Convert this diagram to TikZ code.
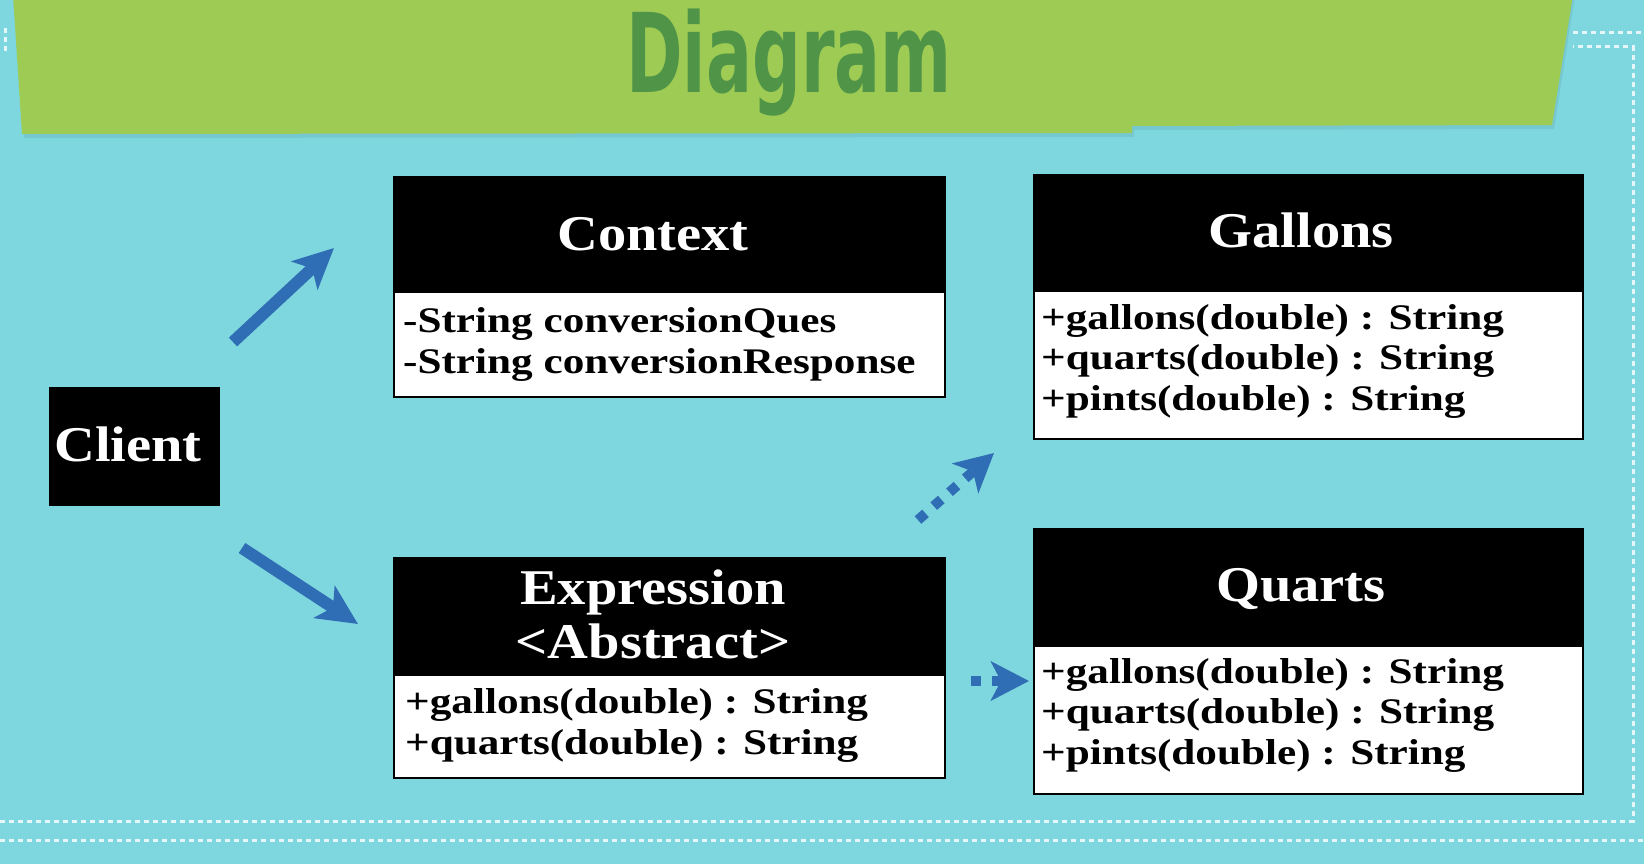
\documentclass[tikz,border=0pt]{standalone}
\usepackage{fontspec}
\newfontfamily\umlbody[FakeStretch=1.2]{Liberation Serif Bold}
\newfontfamily\umlhead[FakeStretch=1.13]{Liberation Serif Bold}
\newfontfamily\titlefont[FakeStretch=0.62]{DejaVu Sans Bold}
\usetikzlibrary{arrows.meta}
\definecolor{bg}{RGB}{126,214,222}
\definecolor{banner}{RGB}{158,203,84}
\definecolor{ttl}{RGB}{80,148,72}
\definecolor{arrblue}{RGB}{47,109,181}
\begin{document}
\begin{tikzpicture}[x=1pt,y=-1pt,
  hdr/.style={fill=black, draw=black, line width=1.5pt, inner sep=0pt, anchor=north west,
    text=white, font=\umlhead\fontsize{50}{58}\selectfont, text height=33pt, text depth=0pt},
  hdrtext/.style={anchor=base, inner sep=0pt, text=white, font=\umlhead\fontsize{50}{58}\selectfont},
  bodybox/.style={fill=white, draw=black, line width=1.8pt, inner sep=0pt, anchor=north west},
  umlline/.style={anchor=base west, inner sep=0pt, font=\umlbody\fontsize{36}{40}\selectfont},
  solidarrow/.style={draw=arrblue, line width=12pt, -{Stealth[length=40pt,width=38pt,inset=10pt]}},
  dotarrow/.style={draw=arrblue, line width=10pt, dash pattern=on 10pt off 11pt, -{Stealth[length=38pt,width=39pt,inset=10pt]}},
  stitch/.style={draw=white, opacity=0.8, line width=3pt, dash pattern=on 5pt off 4pt}
]
% background
\fill[bg] (0,0) rectangle (1644,864);
\useasboundingbox (0,0) rectangle (1644,864);
% stitched frame
\draw[stitch] (0,840) -- (1644,840);
\draw[stitch] (0,821) -- (1633,821) -- (1633,47) -- (1573,47);
\draw[stitch] (1573,33) -- (1644,33);
\draw[stitch] (5,28) -- (5,52);
% banner
\fill[bg!75!black, opacity=0.25] (15,-5) -- (1575,-5) -- (1554,129) -- (1134,130) -- (1134,137) -- (24,138) -- cycle;
\fill[banner] (13,-5) -- (1573,-5) -- (1552,125) -- (1132,126) -- (1132,133) -- (22,134) -- cycle;
\node[font=\titlefont\fontsize{110}{110}\selectfont, text=ttl, anchor=base, inner sep=0pt] (title) at (789,93) {Diagram};

% Client
\node[hdr, minimum width=169pt, minimum height=117pt] (client) at (49,387) {};
\node[hdrtext] (clientt) at (128,461) {Client};

% Context
\node[hdr, minimum width=551pt, minimum height=115pt] (ctxh) at (393,176) {};
\node[hdrtext] (ctxt) at (653,250) {Context};
\node[bodybox, minimum width=551pt, minimum height=105pt] (ctxb) at (393,291) {};
\node[umlline] (ctx1) at (403,332) {-String conversionQues};
\node[umlline] (ctx2) at (403,373) {-String conversionResponse};

% Expression
\node[hdr, minimum width=551pt, minimum height=117pt] (exph) at (393,557) {};
\node[hdrtext] (exp1) at (653,604) {Expression};
\node[hdrtext] (exp2) at (653,658) {<Abstract>};
\node[bodybox, minimum width=551pt, minimum height=103pt] (expb) at (393,674) {};
\node[umlline] (expl1) at (405,713) {+gallons(double) : String};
\node[umlline] (expl2) at (405,754) {+quarts(double) : String};

% Gallons
\node[hdr, minimum width=549pt, minimum height=116pt] (galh) at (1033,174) {};
\node[hdrtext] (galt) at (1301,247) {Gallons};
\node[bodybox, minimum width=549pt, minimum height=148pt] (galb) at (1033,290) {};
\node[umlline] (gal1) at (1041,329) {+gallons(double) : String};
\node[umlline] (gal2) at (1041,369.5) {+quarts(double) : String};
\node[umlline] (gal3) at (1041,410) {+pints(double) : String};

% Quarts
\node[hdr, minimum width=549pt, minimum height=117pt] (quah) at (1033,528) {};
\node[hdrtext] (quat) at (1301,601) {Quarts};
\node[bodybox, minimum width=549pt, minimum height=148pt] (quab) at (1033,645) {};
\node[umlline] (qua1) at (1041,683) {+gallons(double) : String};
\node[umlline] (qua2) at (1041,723.5) {+quarts(double) : String};
\node[umlline] (qua3) at (1041,764) {+pints(double) : String};

% connectors
\coordinate (c1s) at (233,342);
\coordinate (c1e) at (334,248);
\coordinate (c2s) at (242,548);
\coordinate (c2e) at (358,624);
\coordinate (d1s) at (918,520);
\coordinate (d1e) at (994,453);
\coordinate (d2s) at (971,681);
\coordinate (d2e) at (1029,681);
\draw[solidarrow] (c1s) -- (c1e);
\draw[solidarrow] (c2s) -- (c2e);
\draw[dotarrow] (d1s) -- (d1e);
\draw[dotarrow] (d2s) -- (d2e);
\end{tikzpicture}
\end{document}
